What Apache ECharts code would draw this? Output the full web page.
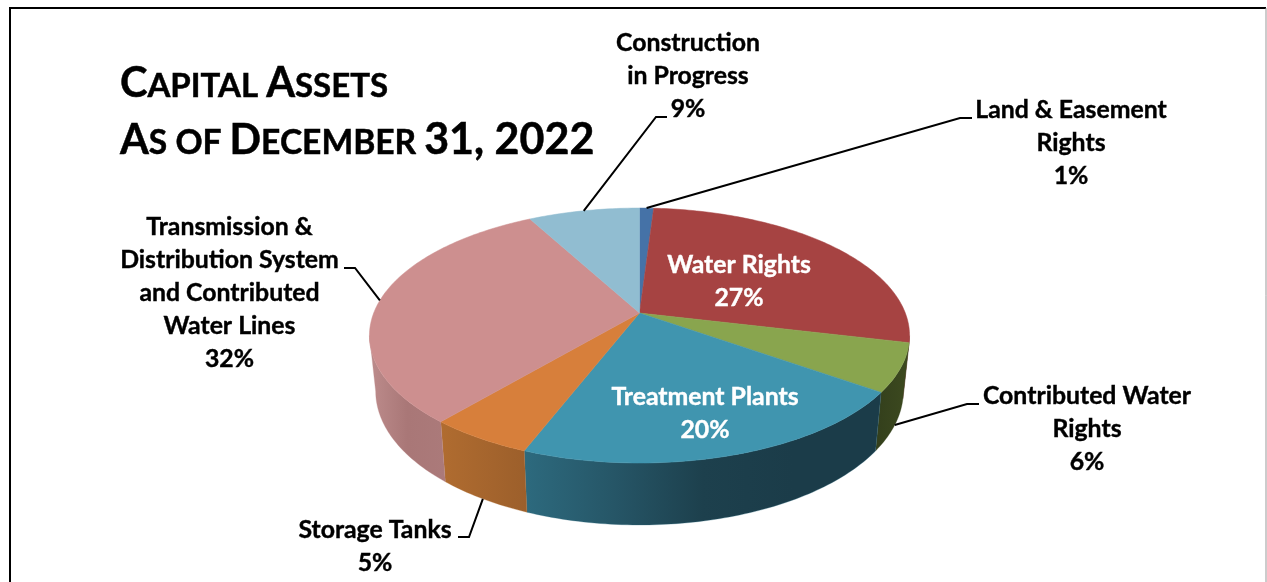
<!DOCTYPE html>
<html>
<head>
<meta charset="utf-8">
<title>Capital Assets</title>
<script src="https://cdn.jsdelivr.net/npm/echarts@6/dist/echarts.min.js"></script>
<style>
  html, body { margin: 0; padding: 0; background: #fff; }
  #main { width: 1267px; height: 582px; }
</style>
</head>
<body>
<div id="main"></div>
<script>
const categories = [
  'Land & Easement\nRights',
  'Water Rights',
  'Contributed Water\nRights',
  'Treatment Plants',
  'Storage Tanks',
  'Transmission &\nDistribution System\nand Contributed\nWater Lines',
  'Construction\nin Progress'
];
// percentages as printed on the chart
const printedPercent = [1, 27, 6, 20, 5, 32, 9];
// wedge sizes as measured off the rim, the drawn slices do not quite follow the printed numbers
const wedgeShare = [1.0, 27.7, 6.1, 21.1, 5.3, 30.9, 7.9];

const topColors = ['#4572a7', '#a64342', '#89a54e', '#4095af', '#d77f3b', '#cd8f8f', '#91bdd1'];
const wallColors = [
  ['#2d4a70', '#2d4a70'],
  ['#6e2b2a', '#6e2b2a'],
  ['#333f1c', '#3d4a1f'],
  ['#2d6a7e', '#265667', '#1d404d', '#1b3c49', '#1b3c49'],
  ['#b06c30', '#9c5f2b'],
  ['#bd8c8c', '#a97777', '#ab7a7a'],
  ['#5f8aa0', '#5f8aa0']
];

// perspective pie: the apex is not in the middle of the rim ellipse
const cx = 639.5, apexY = 313;
const radX = 265.8, radY = 123.5, persp = 0.1765;
const FRONT_FROM = 100.2, FRONT_TO = 259.8; // part of the wall that can be seen
const FONT = 'Lato, "Noto Sans", sans-serif';

function total() {
  return wedgeShare.reduce((a, b) => a + b, 0);
}
function startDeg(i) {
  let sum = 0;
  for (let k = 0; k < i; k++) sum += wedgeShare[k];
  return sum / total() * 360;
}
function endDeg(i) {
  return startDeg(i) + wedgeShare[i] / total() * 360;
}
// t is clockwise from 12 o'clock
function rimTop(t) {
  const r = t * Math.PI / 180;
  const u = Math.sin(r), v = -Math.cos(r);
  const d = 1 - persp * v;
  return [cx + radX * u / d, apexY + radY * v / d];
}
function rimBottom(t) {
  const p = rimTop(t);
  return [cx + (p[0] - cx) * 0.977, p[1] + 54.5 + 0.05 * (p[1] - apexY)];
}
function sample(from, to, fn) {
  const pts = [];
  const n = Math.max(2, Math.ceil((to - from) / 1));
  for (let k = 0; k <= n; k++) pts.push(fn(from + (to - from) * k / n));
  return pts;
}

function renderWall(params) {
  const i = params.dataIndex;
  const from = Math.max(startDeg(i), FRONT_FROM);
  const to = Math.min(endDeg(i), FRONT_TO);
  if (to <= from) return null;
  const pts = sample(from, to, rimTop).concat(sample(from, to, rimBottom).reverse());
  const cols = wallColors[i];
  const stops = cols.map((c, k) => ({ offset: k / (cols.length - 1), color: c }));
  const fill = new echarts.graphic.LinearGradient(0, 0, 1, 0, stops);
  return {
    type: 'polygon',
    shape: { points: pts },
    style: { fill: fill, stroke: cols[0], lineWidth: 0.3 }
  };
}

function renderTop(params) {
  const i = params.dataIndex;
  const pts = [[cx, apexY]].concat(sample(startDeg(i), endDeg(i), rimTop));
  return {
    type: 'polygon',
    shape: { points: pts },
    style: { fill: topColors[i], stroke: topColors[i], lineWidth: 0.5 }
  };
}

// where each label sits: centre x and top of its text block
const labelPlace = [
  { x: 1071, y: 94 },
  { x: 739, y: 249, color: '#fff' },
  { x: 1087, y: 380 },
  { x: 705, y: 381, color: '#fff' },
  { x: 375, y: 514 },
  { x: 229.5, y: 211 },
  { x: 688, y: 27 }
];
// leader lines start on the slice (rim at the middle of its angle) and go through these two points
const leaderPath = [
  { bottom: false, pts: [[960, 118], [972, 118]] },
  null,
  { bottom: true, pts: [[967, 404], [979, 404]] },
  null,
  { bottom: true, pts: [[469, 537], [458, 537]] },
  { bottom: false, pts: [[355, 268], [344, 268]] },
  { bottom: false, pts: [[656, 117], [667, 117]] }
];

const graphics = [];

// frame
graphics.push({
  type: 'polyline',
  silent: true,
  shape: { points: [[10, 590], [10, 8], [1266, 8]] },
  style: { stroke: '#000', lineWidth: 2, fill: 'none' }
});
graphics.push({
  type: 'line',
  silent: true,
  shape: { x1: 1266, y1: 8, x2: 1266, y2: 590 },
  style: { stroke: '#999', lineWidth: 1 }
});

const heavy = { stroke: '#000', lineWidth: 0.5 };
const titleRich = {
  b: Object.assign({ fontSize: 41.5, fontWeight: 'bold', fontFamily: FONT, fill: '#000', lineHeight: 57 }, heavy),
  n: Object.assign({ fontSize: 43, fontWeight: 'bold', fontFamily: FONT, fill: '#000', lineHeight: 57 }, heavy),
  s: Object.assign({ fontSize: 33, fontWeight: 'bold', fontFamily: FONT, fill: '#000', lineHeight: 57, padding: [5, 0, 0, 0] }, heavy),
  t: Object.assign({ fontSize: 33.6, fontWeight: 'bold', fontFamily: FONT, fill: '#000', lineHeight: 57, padding: [5, 0, 0, 0] }, heavy)
};
graphics.push({
  type: 'text',
  silent: true,
  style: {
    x: 120, y: 55,
    text: '{b|C}{s|APITAL} {b|A}{s|SSETS}\n{b|A}{t|S OF} {b|D}{t|ECEMBER} {n|31, 2022}',
    rich: titleRich,
    fontSize: 33, fontWeight: 'bold', fontFamily: FONT, lineHeight: 57,
    verticalAlign: 'top', align: 'left'
  }
});

categories.forEach((name, i) => {
  const place = labelPlace[i];
  const color = place.color || '#000';
  graphics.push({
    type: 'text',
    silent: true,
    z: 10,
    style: {
      x: place.x, y: place.y,
      text: name + '\n' + printedPercent[i] + '%',
      fontSize: 24.8, fontWeight: 'bold', fontFamily: FONT,
      lineHeight: 33,
      fill: color, stroke: color, lineWidth: 0.4,
      align: 'center', verticalAlign: 'top'
    }
  });
  const path = leaderPath[i];
  if (path) {
    const mid = (startDeg(i) + endDeg(i)) / 2;
    const start = path.bottom ? rimBottom(mid) : rimTop(mid);
    graphics.push({
      type: 'polyline',
      silent: true,
      z: 10,
      shape: { points: [start].concat(path.pts) },
      style: { stroke: '#000', lineWidth: 2, fill: 'none' }
    });
  }
});

const chart = echarts.init(document.getElementById('main'));
chart.setOption({
  animation: false,
  backgroundColor: '#fff',
  series: [
    { type: 'custom', coordinateSystem: 'none', silent: true, z: 1, renderItem: renderWall, data: wedgeShare },
    { type: 'custom', coordinateSystem: 'none', silent: true, z: 2, renderItem: renderTop, data: wedgeShare }
  ],
  graphic: { elements: graphics }
});
</script>
</body>
</html>
